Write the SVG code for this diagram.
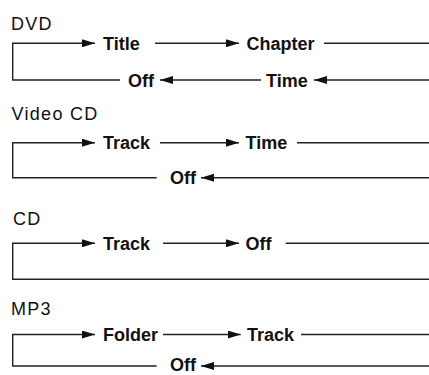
<svg xmlns="http://www.w3.org/2000/svg" width="429" height="375" viewBox="0 0 429 375">
<style>
.hd{font-family:"Liberation Sans",Arial,sans-serif;font-size:18px;letter-spacing:1.3px;fill:#111}
.lb{font-family:"Liberation Sans",Arial,sans-serif;font-size:18px;font-weight:bold;fill:#111}
.ln{fill:none;stroke:#222;stroke-width:1.4}
.ar{marker-end:url(#ah)}
</style>
<defs>
<marker id="ah" markerWidth="14" markerHeight="9" refX="13" refY="4" orient="auto" markerUnits="userSpaceOnUse">
<path d="M0,0 L13,4 L0,8 Z" fill="#111"/>
</marker>
</defs>
<rect width="429" height="375" fill="#fff"/>
<g id="connectors">
<!-- DVD -->
<path class="ln ar" d="M120,80 H12.7 V43.3 H95"/>
<path class="ln ar" d="M155,43.3 H239"/>
<path class="ln" d="M324,43.3 H429"/>
<path class="ln ar" d="M429,80 H314"/>
<path class="ln ar" d="M261,80 H160"/>
<!-- Video CD -->
<path class="ln ar" d="M156.7,177.7 H12.7 V142.7 H95"/>
<path class="ln ar" d="M160,142.7 H239"/>
<path class="ln" d="M297,142.7 H429"/>
<path class="ln ar" d="M429,177.7 H201"/>
<!-- CD -->
<path class="ln ar" d="M429,279.3 H12.7 V243.3 H95"/>
<path class="ln ar" d="M163,243.3 H239"/>
<path class="ln" d="M285.7,243.3 H429"/>
<!-- MP3 -->
<path class="ln ar" d="M156.7,366 H12.7 V334.5 H95"/>
<path class="ln ar" d="M163,334.5 H240.7"/>
<path class="ln" d="M301,334.5 H429"/>
<path class="ln ar" d="M429,366 H201"/>
</g>
<g id="dvd"><text class="hd" x="11" y="29.5">DVD</text></g>
<g id="dvd-title"><text class="lb" x="103" y="50">Title</text></g>
<g id="dvd-chapter"><text class="lb" x="246.5" y="50">Chapter</text></g>
<g id="dvd-time"><text class="lb" x="266" y="86.5">Time</text></g>
<g id="dvd-off"><text class="lb" x="128" y="86.5">Off</text></g>
<g id="vcd"><text class="hd" x="11.5" y="120">Video CD</text></g>
<g id="vcd-track"><text class="lb" x="103" y="149.4">Track</text></g>
<g id="vcd-time"><text class="lb" x="245.5" y="149.4">Time</text></g>
<g id="vcd-off"><text class="lb" x="170" y="184.2">Off</text></g>
<g id="cd"><text class="hd" x="13" y="225">CD</text></g>
<g id="cd-track"><text class="lb" x="103" y="250">Track</text></g>
<g id="cd-off"><text class="lb" x="245.5" y="250">Off</text></g>
<g id="mp3"><text class="hd" x="11" y="315">MP3</text></g>
<g id="mp3-folder"><text class="lb" x="103" y="341">Folder</text></g>
<g id="mp3-track"><text class="lb" x="247" y="341">Track</text></g>
<g id="mp3-off"><text class="lb" x="170" y="371">Off</text></g>
</svg>
